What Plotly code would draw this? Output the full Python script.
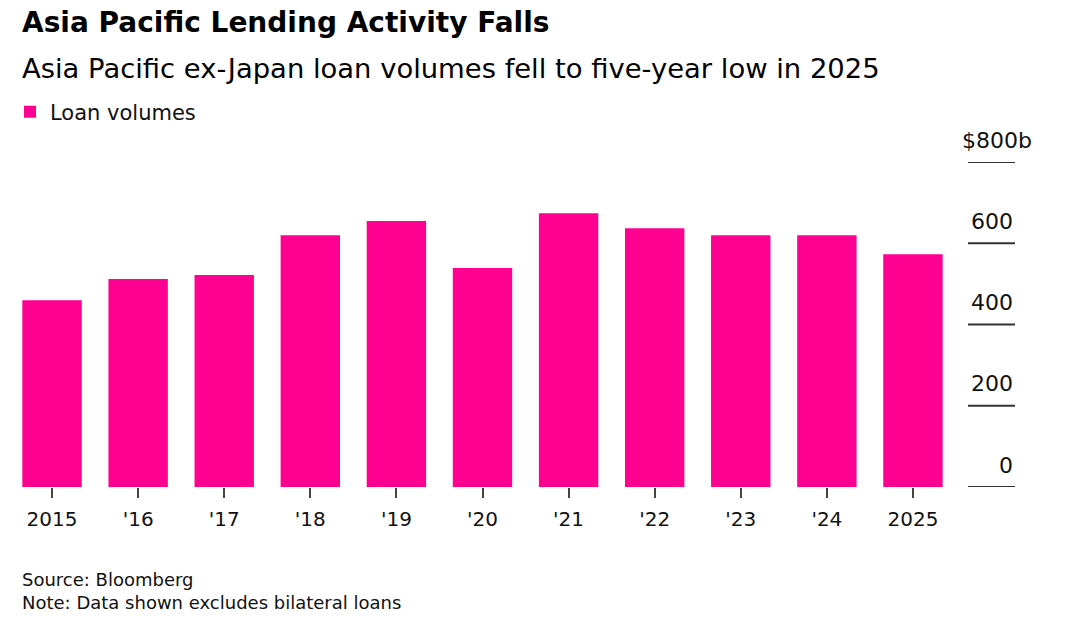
import plotly.graph_objects as go

years = ["2015", "'16", "'17", "'18", "'19", "'20", "'21", "'22", "'23", "'24", "2025"]
loan_volumes = [460, 512, 522, 620, 655, 539, 674, 637, 620, 620, 573]
y_ticks = [0, 200, 400, 600, 800]
y_tick_labels = ["0", "200", "400", "600", "$800b"]

PINK = "#ff0090"
FONT = "DejaVu Sans, Liberation Sans, Arial, sans-serif"

L, R, T, B = 9, 956, 162, 487
PW, PH = R - L, B - T


def px(xp):
    return (xp - L) / PW


def py(yp):
    return (B - yp) / PH


fig = go.Figure()
fig.add_trace(go.Bar(
    x=years, y=loan_volumes, name="Loan volumes",
    marker=dict(color=PINK, line=dict(width=0)),
    showlegend=True,
))

shapes = []
annotations = []
for v, lab in zip(y_ticks, y_tick_labels):
    shapes.append(dict(type="line", xref="paper", yref="y",
                       x0=px(968), x1=px(1015), y0=v, y1=v,
                       line=dict(color="#333333", width=2)))
    annotations.append(dict(xref="paper", yref="y", x=px(1015) if lab != "$800b" else px(1034),
                            y=v, yshift=22, text=lab, showarrow=False,
                            xanchor="right", yanchor="middle",
                            font=dict(family=FONT, size=22, color="#111111")))

annotations += [
    dict(xref="paper", yref="paper", x=px(20), y=py(22),
         text="<b>Asia Pacific Lending Activity Falls</b>", showarrow=False,
         xanchor="left", yanchor="middle",
         font=dict(family=FONT, size=28, color="#000000")),
    dict(xref="paper", yref="paper", x=px(20), y=py(69),
         text="Asia Pacific ex-Japan loan volumes fell to five-year low in 2025", showarrow=False,
         xanchor="left", yanchor="middle",
         font=dict(family=FONT, size=27.4, color="#000000")),
    dict(xref="paper", yref="paper", x=px(20), y=py(579),
         text="Source: Bloomberg", showarrow=False,
         xanchor="left", yanchor="middle",
         font=dict(family=FONT, size=18, color="#111111")),
    dict(xref="paper", yref="paper", x=px(20), y=py(602),
         text="Note: Data shown excludes bilateral loans", showarrow=False,
         xanchor="left", yanchor="middle",
         font=dict(family=FONT, size=18, color="#111111")),
]

fig.update_layout(
    width=1080, height=627,
    margin=dict(l=L, r=1080 - R, t=T, b=627 - B, pad=0),
    paper_bgcolor="white", plot_bgcolor="white",
    bargap=0.31,
    font=dict(family=FONT, color="#111111"),
    shapes=shapes, annotations=annotations,
    legend=dict(xref="container", yref="container", x=10 / 1080, y=1 - 112 / 627,
                xanchor="left", yanchor="middle", orientation="h",
                font=dict(family=FONT, size=21, color="#111111"),
                itemwidth=30, bgcolor="rgba(0,0,0,0)"),
    xaxis=dict(type="category", range=[-0.5, 10.5], showgrid=False, zeroline=False,
               showline=False, ticks="outside", ticklen=10, tickwidth=2, tickcolor="#444444",
               ticklabelstandoff=4,
               tickfont=dict(family=FONT, size=20, color="#111111"), fixedrange=True),
    yaxis=dict(range=[0, 800], showgrid=False, zeroline=False, showline=False,
               showticklabels=False, ticks="", fixedrange=True),
)

fig.write_html("out.html", config={"displayModeBar": False},
               post_script="document.body.style.margin='0';document.body.style.overflow='hidden';")
